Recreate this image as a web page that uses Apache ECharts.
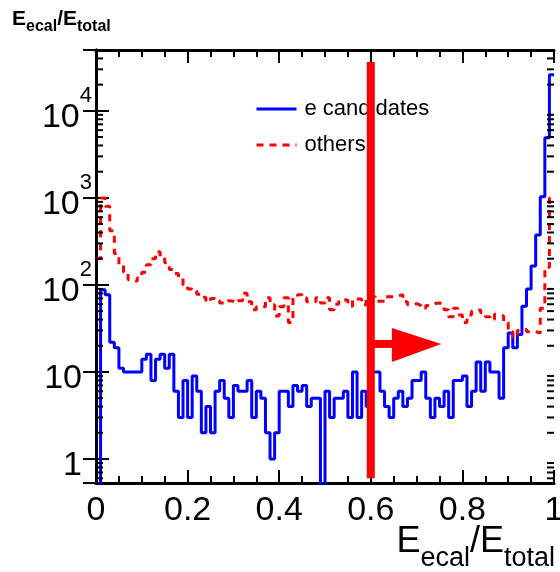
<!DOCTYPE html>
<html>
<head>
<meta charset="utf-8">
<script src="https://cdn.jsdelivr.net/npm/echarts@6/dist/echarts.min.js"></script>
<style>
  html, body { margin: 0; padding: 0; background: #fff; }
  #chart { width: 560px; height: 572px; }
</style>
</head>
<body>
<div id="chart"></div>
<script>
// Histogram binning of E_ecal/E_total: 100 equal bins on [0, 1]
const X_MIN = 0;
const X_MAX = 1;
const BIN_COUNT = 100;

// Entries per bin, electron candidates
const eCandidates = [
  0, 88, 77, 22, 19, 11, 10, 10, 10, 10,
  14, 16, 8, 14, 16, 11, 16, 6, 3, 8,
  3, 9, 6, 2, 4, 2, 6, 8, 5, 3,
  7, 6, 6, 8, 3, 6, 5, 2, 1, 2,
  6, 6, 4, 7, 6, 7, 4, 5, 5, 0,
  6, 3, 5, 5, 6, 3, 10, 3, 6, 4,
  10, 10, 6, 4, 3, 5, 6, 4, 5, 8,
  8, 10, 5, 3, 5, 4, 6, 3, 8, 8,
  9, 4, 6, 13, 6, 13, 10, 10, 5, 19,
  28, 19, 27, 57, 90, 165, 375, 1030, 4900, 26000
];

// Entries per bin, all other tracks
const others = [
  200, 1000, 800, 420, 230, 170, 140, 115, 110, 120,
  140, 170, 200, 240, 210, 180, 150, 135, 120, 100,
  90, 85, 78, 72, 64, 70, 66, 62, 66, 65,
  62, 66, 80, 64, 52, 56, 56, 71, 59, 44,
  56, 71, 37, 71, 77, 71, 64, 64, 71, 62,
  71, 52, 60, 67, 67, 57, 69, 69, 59, 73,
  73, 65, 65, 73, 73, 75, 77, 64, 59, 61,
  58, 54, 58, 61, 62, 60, 52, 43, 54, 45,
  37, 45, 50, 52, 48, 43, 40, 46, 44, 37,
  29, 25, 30, 31, 29, 29, 28, 54, 160, 1000
];

// Axis ranges and tick labels
const Y_MIN = 0.53;
const Y_MAX = 50000;
const xTickLabels = ['0', '0.2', '0.4', '0.6', '0.8', '1'];
const yDecadeExponents = [0, 1, 2, 3, 4];
const yMinorMantissas = [2, 3, 4, 5, 6, 7, 8, 9];

// Selection cut and the arrow pointing to the accepted side
const CUT_VALUE = 0.6;
const CUT_LINE_Y = [0.6, 36500];
const ARROW_Y = 21;
const ARROW_SHAFT_END = 0.646;
const ARROW_TIP = 0.754;
const ARROW_HEAD_Y = [13, 32];

const FONT = '"Liberation Sans", Arial, Helvetica, sans-serif';
const EMPTY_FLOOR = 0.1; // empty bins fall below the log axis and get clipped

const binWidth = (X_MAX - X_MIN) / BIN_COUNT;
function histogramPoints(counts) {
  const pts = counts.map((c, i) => [X_MIN + i * binWidth, c > 0 ? c : EMPTY_FLOOR]);
  pts.push([X_MAX, pts[pts.length - 1][1]]);
  return pts;
}

// Minor ticks of the log axis: 2..9 times each decade, inside the range
const yMinorTicks = [];
for (let e = -1; e <= 4; e++) {
  yMinorMantissas.forEach(m => {
    const v = m * Math.pow(10, e);
    if (v > Y_MIN && v < Y_MAX) yMinorTicks.push([X_MIN, v]);
  });
}

function yLabel(value) {
  const k = Math.round(Math.log10(value));
  if (Math.abs(Math.log10(value) - k) > 1e-6 || yDecadeExponents.indexOf(k) < 0) return '';
  if (k === 0) return '{b|1}{p|}';
  if (k === 1) return '{b|10}{p|}';
  return '{b|10}{s|' + k + '}';
}

function xLabel(value) {
  const idx = Math.round(value / 0.2);
  return xTickLabels[idx] !== undefined ? xTickLabels[idx] : '';
}

const frameLine = { lineStyle: { color: '#000', width: 3 } };
const majorTick = { show: true, inside: true, length: 13, lineStyle: { color: '#000', width: 2 } };
const minorTick = { show: true, splitNumber: 4, length: 7, lineStyle: { color: '#000', width: 2 } };

const xAxisBase = {
  type: 'value', min: X_MIN, max: X_MAX, interval: 0.2,
  axisLine: frameLine, axisTick: majorTick, minorTick: minorTick,
  splitLine: { show: false }, minorSplitLine: { show: false }
};
const yAxisBase = {
  type: 'log', logBase: 10, min: Y_MIN, max: Y_MAX,
  axisLine: frameLine, axisTick: majorTick,
  splitLine: { show: false }, minorTick: { show: false }
};

const chart = echarts.init(document.getElementById('chart'), null, { renderer: 'canvas' });

chart.setOption({
  animation: false,
  backgroundColor: '#fff',
  textStyle: { fontFamily: FONT },
  title: [
    {
      left: 7, top: 4,
      text: '{E|E}{s|ecal}{E|/E}{s|total}',
      textStyle: {
        rich: {
          E: { fontFamily: FONT, fontWeight: 'bold', fontSize: 21, lineHeight: 21, verticalAlign: 'top', color: '#000' },
          s: { fontFamily: FONT, fontWeight: 'bold', fontSize: 16, lineHeight: 16, padding: [10, 0, 0, 0], verticalAlign: 'top', color: '#000' }
        }
      }
    },
    {
      right: 0, top: 519,
      text: '{E|E}{s|ecal}{E|/E}{s|total}',
      textStyle: {
        rich: {
          E: { fontFamily: FONT, fontWeight: 'normal', fontSize: 36, lineHeight: 36, verticalAlign: 'top', color: '#000' },
          s: { fontFamily: FONT, fontWeight: 'normal', fontSize: 27, lineHeight: 27, padding: [21, 0, 0, 0], verticalAlign: 'top', color: '#000' }
        }
      }
    }
  ],
  legend: {
    orient: 'vertical', left: 250, top: 93,
    itemWidth: 40, itemHeight: 14, itemGap: 14,
    data: ['e candidates', 'others'],
    selectedMode: false,
    itemStyle: { opacity: 0 },
    lineStyle: { width: 3 },
    textStyle: { fontFamily: FONT, fontSize: 22, color: '#000', padding: [0, 0, 0, 3] }
  },
  grid: { left: 96, right: 6, top: 50, bottom: 89, containLabel: false, outerBoundsMode: 'none' },
  xAxis: [
    Object.assign({}, xAxisBase, {
      position: 'bottom',
      axisLabel: { show: true, margin: 11, fontSize: 34, color: '#000', fontFamily: FONT, formatter: xLabel,
        showMinLabel: true, showMaxLabel: true }
    }),
    Object.assign({}, xAxisBase, { position: 'top', axisLabel: { show: false } })
  ],
  yAxis: [
    Object.assign({}, yAxisBase, {
      position: 'left',
      axisLabel: {
        show: true, margin: 4, interval: 0, formatter: yLabel, color: '#000',
        rich: {
          b: { fontFamily: FONT, fontSize: 34, lineHeight: 34, padding: [16, 0, 0, 0], verticalAlign: 'top', color: '#000' },
          s: { fontFamily: FONT, fontSize: 22, lineHeight: 52, verticalAlign: 'top', color: '#000' },
          p: { width: 10, lineHeight: 52 }
        }
      }
    }),
    Object.assign({}, yAxisBase, { position: 'right', axisLabel: { show: false } })
  ],
  series: [
    {
      name: 'e candidates', type: 'line', step: 'end', symbol: 'none',
      xAxisIndex: 0, yAxisIndex: 0, clip: true, z: 3,
      data: histogramPoints(eCandidates),
      lineStyle: { color: '#0000ff', width: 3 },
      itemStyle: { color: '#0000ff' }
    },
    {
      name: 'others', type: 'line', step: 'end', symbol: 'none',
      xAxisIndex: 0, yAxisIndex: 0, clip: true, z: 3,
      data: histogramPoints(others),
      lineStyle: { color: '#ff0000', width: 3, type: [7, 6] },
      itemStyle: { color: '#ff0000' }
    },
    {
      // minor ticks of the log axis on the left and right frame
      name: 'yMinorTicks', type: 'custom', xAxisIndex: 0, yAxisIndex: 0,
      silent: true, clip: false, z: 4,
      data: yMinorTicks,
      renderItem: function (params, api) {
        const v = api.value(1);
        const l = api.coord([X_MIN, v]);
        const r = api.coord([X_MAX, v]);
        const style = { stroke: '#000', lineWidth: 2 };
        return {
          type: 'group',
          children: [
            { type: 'line', shape: { x1: l[0], y1: l[1], x2: l[0] + 7, y2: l[1] }, style: style },
            { type: 'line', shape: { x1: r[0] - 7, y1: r[1], x2: r[0], y2: r[1] }, style: style }
          ]
        };
      }
    },
    {
      name: 'cut', type: 'line', symbol: 'none', xAxisIndex: 0, yAxisIndex: 0,
      silent: true, z: 10,
      data: [[CUT_VALUE, CUT_LINE_Y[0]], [CUT_VALUE, CUT_LINE_Y[1]]],
      lineStyle: { color: '#ff0000', width: 8 }
    },
    {
      name: 'cutArrowShaft', type: 'line', symbol: 'none', xAxisIndex: 0, yAxisIndex: 0,
      silent: true, z: 10,
      data: [[CUT_VALUE, ARROW_Y], [ARROW_SHAFT_END + 0.005, ARROW_Y]],
      lineStyle: { color: '#ff0000', width: 8 }
    },
    {
      name: 'cutArrowHead', type: 'custom', xAxisIndex: 0, yAxisIndex: 0,
      silent: true, z: 10,
      data: [[ARROW_TIP, ARROW_Y]],
      renderItem: function (params, api) {
        const tip = api.coord([api.value(0), api.value(1)]);
        const top = api.coord([ARROW_SHAFT_END, ARROW_HEAD_Y[1]]);
        const bottom = api.coord([ARROW_SHAFT_END, ARROW_HEAD_Y[0]]);
        return {
          type: 'polygon',
          shape: { points: [top, tip, bottom] },
          style: { fill: '#ff0000' }
        };
      }
    }
  ]
});
</script>
</body>
</html>
